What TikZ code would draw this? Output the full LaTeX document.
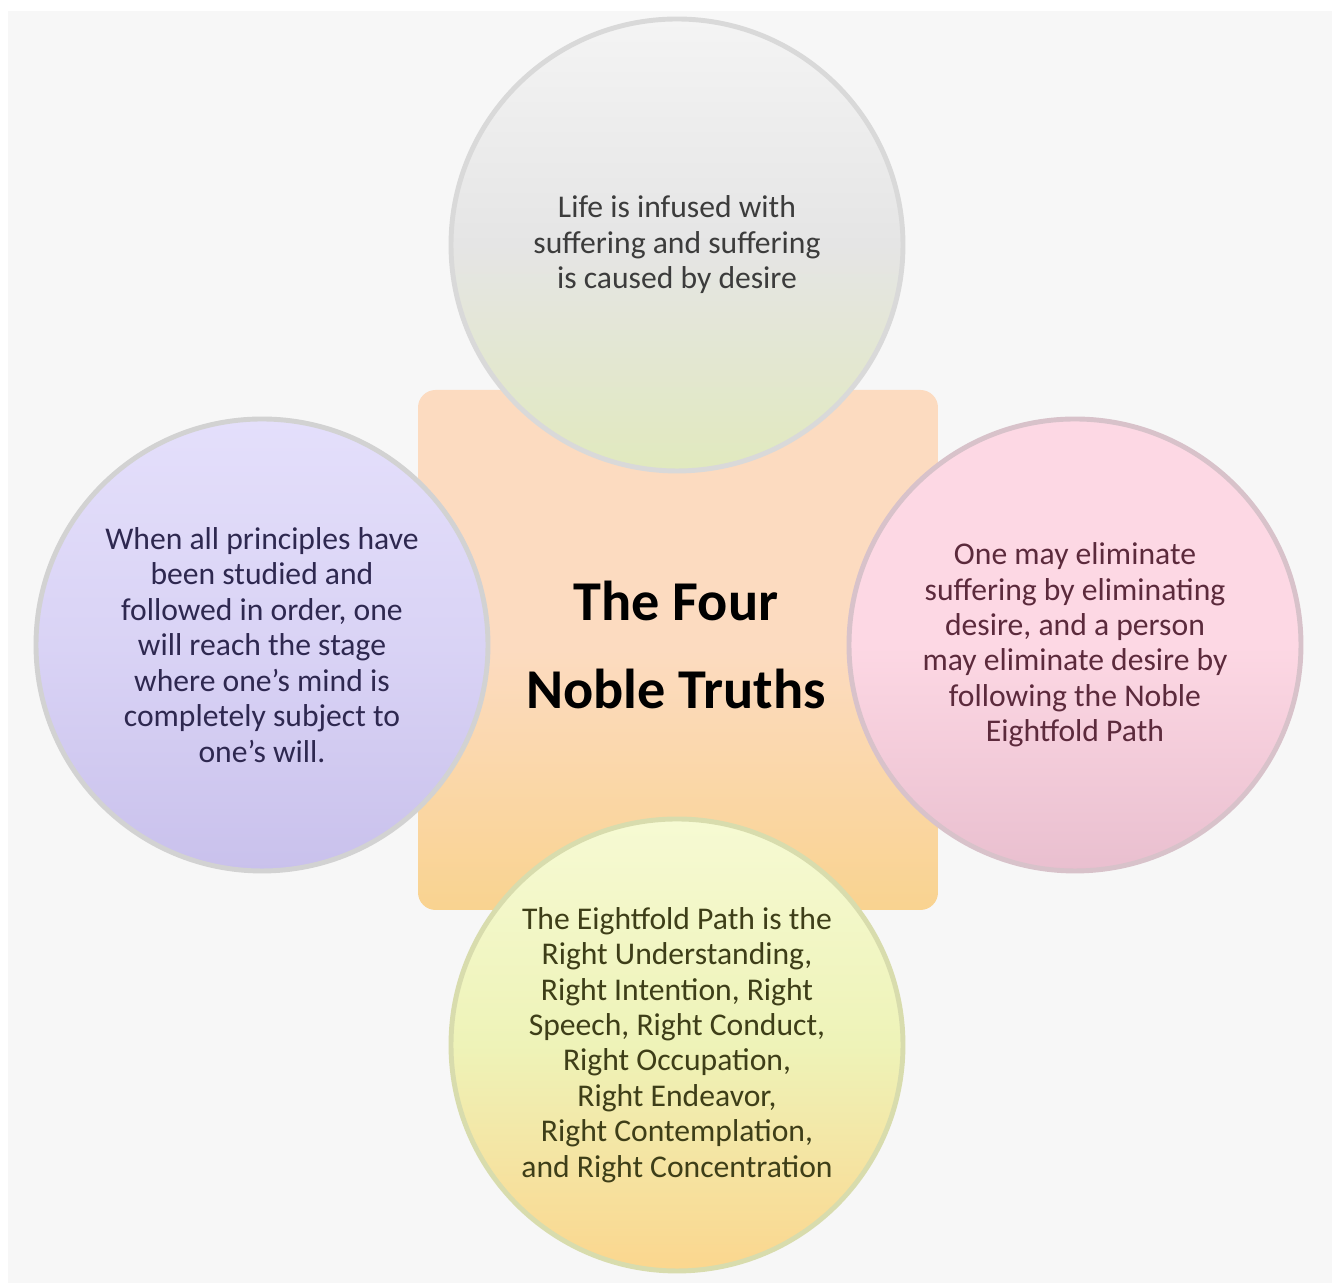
\documentclass[tikz,border=0pt]{standalone}
\usepackage{fontspec}
\setmainfont{Carlito}
\usepackage{tikz}
\usetikzlibrary{shapes,positioning,calc,backgrounds}

\definecolor{panel}{HTML}{F7F7F7}
\definecolor{peach}{HTML}{FCDBC0}
\definecolor{apricot}{HTML}{F9D390}
\definecolor{greyA}{HTML}{F4F4F4}
\definecolor{greyB}{HTML}{E5E5E5}
\definecolor{sage}{HTML}{E1E9BE}
\definecolor{lilacA}{HTML}{E4DFFB}
\definecolor{lilacB}{HTML}{C9C1EC}
\definecolor{roseA}{HTML}{FDD8E4}
\definecolor{roseB}{HTML}{E9BFCF}
\definecolor{roseline}{HTML}{D8C2CA}
\definecolor{limeA}{HTML}{F6FAD3}
\definecolor{limeB}{HTML}{EEF3B8}
\definecolor{gold}{HTML}{FBD68E}

\begin{document}
\begin{tikzpicture}[
  petal/.style={circle, minimum size=4.52cm, inner sep=0pt, line width=1.4pt,
    align=center, font=\fontsize{9}{10.1}\selectfont},
  hub/.style={rectangle, rounded corners=5pt, minimum size=5.2cm, inner sep=0pt,
    align=center, font=\fontsize{16}{25}\selectfont\bfseries},
]
\useasboundingbox (0,0) rectangle (13.38,-12.83);
\fill[panel] (0.08,-0.11) rectangle (13.32,-12.83);

% Centre block
\node[hub, top color=peach, bottom color=apricot, middle color=peach] (truths) at (6.78,-6.50) {};
\node[font=\fontsize{16}{25}\selectfont\bfseries, align=center] (title) at (6.76,-6.45)
  {The Four\\Noble Truths};

% Truth 1 - top
\node[petal, draw=gray!30, top color=greyA, bottom color=sage, middle color=greyB,
  text={rgb,255:red,60;green,60;blue,60}] (suffering) at (6.77,-2.45) {
  Life is infused with\\
  suffering and suffering\\
  is caused by desire
};

% Truth 2 - right
\node[petal, draw=roseline, top color=roseA, bottom color=roseB, middle color=roseA,
  text={rgb,255:red,92;green,42;blue,60}] (cessation) at (10.75,-6.45) {
  One may eliminate\\
  suffering by eliminating\\
  desire, and a person\\
  may eliminate desire by\\
  following the Noble\\
  Eightfold Path
};

% Truth 3 - left
\node[petal, draw=gray!35, top color=lilacA, bottom color=lilacB, middle color=lilacA!60!lilacB,
  text={rgb,255:red,46;green,40;blue,80}] (attainment) at (2.62,-6.45) {
  When all principles have\\
  been studied and\\
  followed in order, one\\
  will reach the stage\\
  where one's mind is\\
  completely subject to\\
  one's will.
};

% Truth 4 - bottom
\node[petal, draw=gray!20!limeB, top color=limeA, bottom color=gold, middle color=limeB,
  text={rgb,255:red,62;green,62;blue,24}] (eightfold) at (6.77,-10.45) {
  The Eightfold Path is the\\
  Right Understanding,\\
  Right Intention, Right\\
  Speech, Right Conduct,\\
  Right Occupation,\\
  Right Endeavor,\\
  Right Contemplation,\\
  and Right Concentration
};

\end{tikzpicture}
\end{document}
